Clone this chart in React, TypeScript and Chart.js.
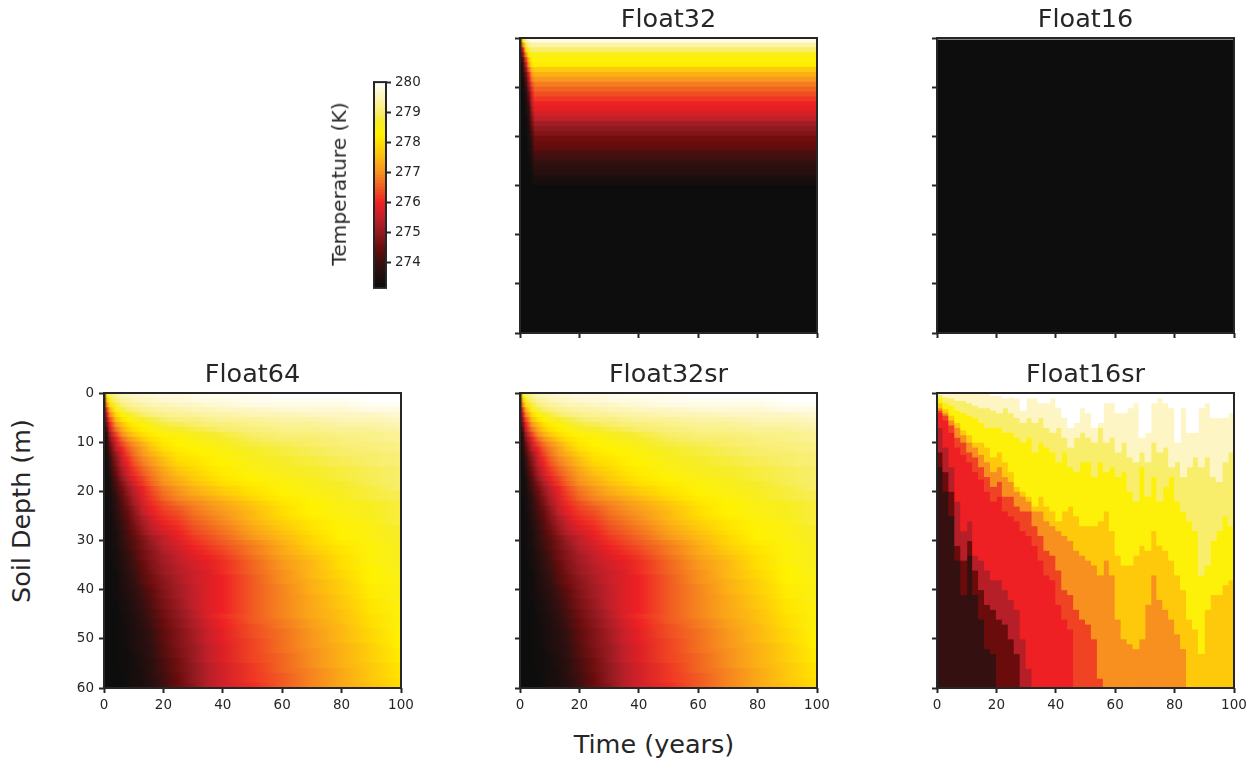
import React, { useEffect, useRef } from "react";
import { Chart, registerables } from "chart.js";

Chart.register(...registerables);

const FONT = "'DejaVu Sans'";
const INK = "#262626";

// Temperature fields are stored as tenths of a kelvin above 273 K.
const fieldTimes = [0, 1, 2, 4, 6, 8, 10, 13, 16, 20, 25, 30, 35, 40, 50, 60, 70, 80, 90, 100];
const fieldDepths = [0.5,1.5,2.5,3.5,4.5,5.5,6.5,7.5,8.5,9.5,10.5,11.5,12.5,13.5,14.5,15.5,16.5,17.5,18.5,19.5,20.5,21.5,22.5,23.5,24.5,25.5,26.5,27.5,28.5,29.5,30.5,31.5,32.5,33.5,34.5,35.5,36.5,37.5,38.5,39.5,40.5,41.5,42.5,43.5,44.5,45.5,46.5,47.5,48.5,49.5,50.5,51.5,52.5,53.5,54.5,55.5,56.5,57.5,58.5,59.5];

const float64Field = [
  [2,55,60,63,65,66,66,67,67,68,68,68,69,69,69,70,70,70,70,70],
  [2,47,56,61,63,64,65,66,66,67,67,68,68,68,69,69,69,69,70,70],
  [2,40,50,58,61,62,63,64,65,65,66,66,67,67,68,68,68,68,69,69],
  [2,33,44,54,58,60,61,62,63,64,64,65,65,66,66,67,67,67,68,68],
  [2,28,39,49,53,56,58,60,61,62,63,63,64,64,65,65,66,66,66,67],
  [2,22,34,45,50,53,55,57,58,60,61,61,62,63,63,64,64,65,65,66],
  [2,18,30,41,46,50,52,54,56,58,59,60,61,61,62,63,63,64,64,65],
  [2,14,26,37,43,47,50,52,54,56,57,58,59,60,61,62,62,63,63,64],
  [2,11,22,33,40,44,47,50,52,54,55,56,57,58,60,61,61,62,62,63],
  [2,8,19,29,36,40,43,47,50,52,53,55,56,57,59,60,60,61,62,63],
  [2,7,16,26,33,37,40,44,48,51,53,54,55,56,58,59,60,61,61,62],
  [2,6,14,24,30,35,38,42,46,50,52,53,54,55,57,58,59,60,61,62],
  [2,5,12,21,28,33,37,41,44,48,51,52,53,54,56,58,59,60,60,61],
  [2,5,10,19,26,31,35,39,42,46,50,51,52,54,56,57,58,59,60,61],
  [2,4,9,18,25,30,34,38,41,45,49,50,52,53,55,57,58,59,60,61],
  [2,4,8,16,23,28,32,36,39,43,47,49,51,52,55,56,57,58,59,60],
  [2,3,7,15,22,27,31,35,38,42,46,48,50,52,54,56,57,58,59,60],
  [2,3,6,13,20,25,29,33,37,41,44,47,49,51,53,55,56,58,59,60],
  [2,3,5,12,18,23,27,32,36,40,43,46,48,50,52,54,56,57,59,60],
  [2,3,5,11,16,21,25,30,34,38,41,44,46,48,51,54,55,57,58,60],
  [2,3,4,10,15,20,24,29,33,37,40,43,45,47,50,53,55,56,58,59],
  [2,3,4,9,14,18,23,28,32,36,39,41,43,45,49,52,54,56,58,59],
  [2,2,4,8,13,17,22,27,31,34,37,39,41,43,47,51,53,55,56,58],
  [2,2,4,8,12,16,20,26,30,33,35,38,40,42,46,50,53,55,56,58],
  [2,2,3,7,12,15,19,25,29,32,34,37,39,41,45,50,53,55,56,58],
  [2,2,3,7,11,14,18,23,27,31,33,36,38,40,45,49,52,54,56,58],
  [2,2,3,6,10,13,17,22,26,30,32,35,37,39,44,48,51,54,55,58],
  [2,2,3,6,10,13,16,21,25,28,31,34,36,38,43,47,51,53,55,57],
  [2,2,3,5,9,12,15,20,24,27,30,33,35,37,42,46,50,53,55,57],
  [2,2,3,5,9,12,14,18,22,25,29,32,34,36,41,45,49,53,55,57],
  [2,2,3,5,8,11,13,17,21,25,28,31,33,35,39,44,49,52,54,57],
  [2,2,3,5,8,11,13,17,20,24,27,30,32,34,38,43,48,51,54,56],
  [2,2,3,4,7,10,12,16,19,23,26,29,31,33,38,43,47,51,54,56],
  [2,2,3,4,7,9,12,16,19,22,25,28,30,32,37,42,46,50,54,56],
  [2,2,2,4,6,9,11,15,18,22,25,27,29,31,36,41,45,50,54,56],
  [2,2,2,4,6,9,11,14,18,21,24,27,29,31,36,41,45,50,53,56],
  [2,2,2,3,6,8,10,14,17,21,24,26,28,31,36,40,45,49,53,56],
  [2,2,2,3,5,8,10,13,16,20,23,26,28,30,35,40,45,49,53,55],
  [2,2,2,3,5,7,9,13,16,19,23,26,28,30,35,40,44,48,53,55],
  [2,2,2,3,5,7,9,12,15,19,22,25,28,30,35,39,44,48,52,55],
  [2,2,2,3,5,6,8,11,14,18,22,25,28,30,35,39,44,48,52,55],
  [2,2,2,3,4,6,8,11,14,18,22,25,28,30,35,39,43,47,52,55],
  [2,2,2,2,4,6,7,10,13,17,21,25,28,30,35,39,43,47,51,55],
  [2,2,2,2,4,5,7,10,13,17,21,25,28,30,35,39,43,47,51,54],
  [2,2,2,2,4,5,7,9,12,16,20,24,28,30,35,39,43,46,51,54],
  [2,2,2,2,3,5,6,9,12,16,20,24,28,31,35,39,43,46,50,54],
  [2,2,2,2,3,5,6,8,11,15,19,23,27,30,35,38,42,46,50,54],
  [2,2,2,2,3,4,6,8,11,15,19,23,27,30,34,38,42,45,50,54],
  [2,2,2,2,3,4,5,7,10,14,18,22,26,29,34,37,41,45,49,54],
  [2,2,2,2,3,4,5,7,10,14,18,22,26,29,34,37,41,45,49,53],
  [2,2,2,2,3,4,5,7,10,14,18,22,26,29,33,37,41,45,49,53],
  [2,2,2,2,3,4,5,7,9,13,18,21,25,28,33,37,41,44,48,53],
  [2,2,2,2,3,3,5,7,9,13,17,21,25,28,33,37,40,44,48,52],
  [2,2,2,2,3,3,4,6,9,13,17,21,25,28,33,36,40,44,48,52],
  [2,2,2,2,3,3,4,6,8,12,16,21,25,28,33,36,40,44,48,52],
  [2,2,2,2,3,3,4,6,8,12,16,20,24,27,32,36,40,44,47,51],
  [2,2,2,2,2,3,4,5,8,12,16,20,24,27,32,36,39,43,47,51],
  [2,2,2,2,2,3,4,5,8,11,15,20,24,27,32,35,39,43,47,51],
  [2,2,2,2,2,3,4,5,7,11,15,20,24,27,32,35,39,43,47,50],
  [2,2,2,2,2,3,4,5,7,11,15,19,24,27,31,35,39,43,46,50],
];
const float32srField = float64Field;

const float32Times = [0, 1, 2, 3, 4, 5, 100];
const float32Depths = [0.5,1.5,2.5,3.5,4.5,5.5,6.5,7.5,8.5,9.5,10.5,11.5,12.5,13.5,14.5,15.5,16.5,17.5,18.5,19.5,20.5,21.5,22.5,23.5,24.5,25.5,26.5,27.5,28.5,29.5,30.5,60];
const float32Field = [
  [2,55,64,67,68,68,68],[2,40,58,62,64,64,64],[2,28,50,58,60,60,60],[2,20,40,52,55,55,55],
  [2,14,32,46,53,54,54],[2,10,26,42,51,52,52],[2,8,20,36,45,47,47],[2,6,16,30,41,44,44],
  [2,4,13,26,38,41,41],[2,3,11,22,34,38,38],[2,3,9,19,31,36,36],[2,2,7,16,28,34,34],
  [2,2,6,14,26,32,32],[2,2,5,12,24,30,30],[2,2,4,10,22,29,29],[2,2,4,9,20,27,27],
  [2,2,3,8,18,25,25],[2,2,3,7,16,22,22],[2,2,3,6,14,20,20],[2,2,3,5,12,18,18],
  [2,2,2,5,10,16,16],[2,2,2,4,9,15,15],[2,2,2,4,8,14,14],[2,2,2,3,7,12,12],
  [2,2,2,3,6,11,11],[2,2,2,3,5,9,9],[2,2,2,2,4,8,8],[2,2,2,2,4,7,7],
  [2,2,2,2,3,5,5],[2,2,2,2,3,4,4],[2,2,2,2,2,2,2],[2,2,2,2,2,2,2],
];

const float16Times = [0, 100];
const float16Depths = [0.3, 0.5, 30, 60];
const float16Field = [[70, 70], [2, 2], [2, 2], [2, 2]];

// Float16sr: for each 2-year column, the depth (m) at which each temperature band ends.
const srTimes = [1,3,5,7,9,11,13,15,17,19,21,23,25,27,29,31,33,35,37,39,41,43,45,47,49,51,53,55,57,59,61,63,65,67,69,71,73,75,77,79,81,83,85,87,89,91,93,95,97,99];
const srWhiteBottom = [0,0,0,0,0,0,0,0,0,.5,.5,1,.8,1,3.5,1,1,2,2,1,3,5,7,6,3,4,7,6,2,2,4,4,3,2,9,8,2,1,2,3,10,3,8,8,3,2,5,5,5,4];
const srPaleBottom = [.3,.8,1,1.5,1.5,2,2.5,3,3,3.5,4,3,4,5,6,5,6,5,7,8,7,9,11,9,8,9,10,7,10,9,12,10,13,14,12,14,10,12,11,15,14,17,15,13,15,13,17,18,14,12];
const srLightBottom = [1,2,2.5,3.5,4,4.5,5,6,7,7,7,8,8,9,10,9,12,10,11,12,14,12,15,16,14,14,17,14,16,15,17,16,20,22,15,21,17,22,19,17,22,24,26,28,37,35,30,28,25,27];
const srYellowBottom = [2,3.2,4.5,6,7.5,8.5,10,10,11,13,12,14,16,19,20,21,23,21,23,24,26,24,23,25,27,27,27,26,24,28,33,35,35,33,31,32,28,31,32,34,37,40,46,48,53,44,41,41,39,38];
const srAmberBottom = [3,4,5.5,7,8.5,10,11,12.5,14,16,15,17,18,20,21,22,24,24,26,27,28,29,30,32,33,34,35,37,34,37,46,50,51,52,50,43,37,42,44,46,49,52,60,60,60,60,60,60,60,60];
const srOrangeBottom = [3.5,4.5,6.5,9,10,12,13,15,17,19,18,21,21,23,24,24,27,29,32,33,36,40,41,44,46,47,50,58,60,60,60,60,60,60,60,60,60,60,60,60,60,60,60,60,60,60,60,60,60,60];
const srOrRedBottom = [4,5.5,8,11,12.5,14,16,17.5,20,22,21,24,25,26,28,29,31,34,37,38,43,46,48,60,60,60,60,60,60,60,60,60,60,60,60,60,60,60,60,60,60,60,60,60,60,60,60,60,60,60];
const srRedBottom = [7,11,15,22,28,26,33,34,36,38,38,40,42,44,50,56,60,60,60,60,60,60,60,60,60,60,60,60,60,60,60,60,60,60,60,60,60,60,60,60,60,60,60,60,60,60,60,60,60,60];
const srCrimsonBottom = [12,16,20,31,34,30,36,40,43,44,46,47,50,53,60,60,60,60,60,60,60,60,60,60,60,60,60,60,60,60,60,60,60,60,60,60,60,60,60,60,60,60,60,60,60,60,60,60,60,60];
const srMaroonBottom = [15,20,25,34,41,33,41,46,52,53,60,60,60,60,60,60,60,60,60,60,60,60,60,60,60,60,60,60,60,60,60,60,60,60,60,60,60,60,60,60,60,60,60,60,60,60,60,60,60,60];
const srDarkBottom = [60,60,60,60,60,60,60,60,60,60,60,60,60,60,60,60,60,60,60,60,60,60,60,60,60,60,60,60,60,60,60,60,60,60,60,60,60,60,60,60,60,60,60,60,60,60,60,60,60,60];
const srBands = [
  { level: 70, bottom: srWhiteBottom },
  { level: 66, bottom: srPaleBottom },
  { level: 60, bottom: srLightBottom },
  { level: 54, bottom: srYellowBottom },
  { level: 47, bottom: srAmberBottom },
  { level: 40, bottom: srOrangeBottom },
  { level: 33, bottom: srOrRedBottom },
  { level: 30, bottom: srRedBottom },
  { level: 24, bottom: srCrimsonBottom },
  { level: 15, bottom: srMaroonBottom },
  { level: 10, bottom: srDarkBottom },
];

const colorbarLevels = [273.2,273.3,273.4,273.5,273.6,273.7,273.8,273.9,274,274.1,274.2,274.3,274.4,274.5,274.6,274.7,274.8,274.9,275,275.1,275.2,275.3,275.4,275.5,275.6,275.7,275.8,275.9,276,276.1,276.2,276.3,276.4,276.5,276.6,276.7,276.8,276.9,277,277.1,277.2,277.3,277.4,277.5,277.6,277.7,277.8,277.9,278,278.1,278.2,278.3,278.4,278.5,278.6,278.7,278.8,278.9,279,279.1,279.2,279.3,279.4,279.5,279.6,279.7,279.8,279.9,280];
const colorbarTicks = [274, 275, 276, 277, 278, 279, 280];
const depthTicks = [0, 10, 20, 30, 40, 50, 60];
const timeTicks = [0, 20, 40, 60, 80, 100];

// Colour ramp, keyed on tenths of a kelvin above 273 K.
const rampStops: [number, number, number, number][] = [
  [2, 13, 13, 13], [5, 28, 14, 14], [10, 53, 16, 16], [15, 106, 12, 12], [20, 143, 26, 31],
  [25, 192, 32, 42], [30, 238, 32, 36], [35, 241, 90, 34], [40, 247, 144, 30], [45, 253, 184, 19],
  [50, 255, 223, 0], [53, 255, 242, 0], [57, 246, 236, 40], [60, 248, 238, 107], [66, 253, 246, 196], [70, 255, 255, 255],
];
function ramp(d: number): string {
  if (d <= rampStops[0][0]) return "rgb(13,13,13)";
  for (let i = 1; i < rampStops.length; i++) {
    const a = rampStops[i - 1], b = rampStops[i];
    if (d <= b[0]) {
      const f = (d - a[0]) / (b[0] - a[0]);
      return `rgb(${Math.round(a[1] + (b[1] - a[1]) * f)},${Math.round(a[2] + (b[2] - a[2]) * f)},${Math.round(a[3] + (b[3] - a[3]) * f)})`;
    }
  }
  return "rgb(255,255,255)";
}

const frame = {
  id: "frame",
  afterDraw(chart: any) {
    const { ctx, chartArea: a } = chart;
    ctx.save();
    ctx.strokeStyle = INK;
    ctx.lineWidth = 2;
    ctx.strokeRect(a.left, a.top, a.right - a.left, a.bottom - a.top);
    ctx.restore();
  },
};

const barBase = {
  type: "bar",
  barPercentage: 1,
  categoryPercentage: 1,
  barThickness: "flex",
  stack: "cells",
  borderWidth: 0,
  inflateAmount: 0.5,
};

function fieldDatasets(times: number[], depths: number[], field: number[][]) {
  const sets: any[] = [];
  for (let i = 0; i < times.length - 1; i++) {
    sets.push({
      ...barBase,
      data: depths.map((z) => ({ x: [times[i], times[i + 1]], y: z })),
      backgroundColor: (c: any) => {
        const xs = c.chart.scales.x;
        if (c.dataIndex === undefined || !xs) return "#0d0d0d";
        const x0 = xs.getPixelForValue(times[i]);
        const x1 = xs.getPixelForValue(times[i + 1]);
        if (!Number.isFinite(x0) || !Number.isFinite(x1)) return "#0d0d0d";
        const row = field[c.dataIndex];
        const g = c.chart.ctx.createLinearGradient(x0, 0, x1, 0);
        g.addColorStop(0, ramp(row[i]));
        g.addColorStop(1, ramp(row[i + 1]));
        return g;
      },
    });
  }
  return sets;
}

function bandDatasets() {
  return srBands.map((band, k) => ({
    ...barBase,
    backgroundColor: ramp(band.level),
    data: srTimes.map((t, i) => {
      let top = 0;
      for (let j = 0; j < k; j++) top = Math.max(top, srBands[j].bottom[i]);
      return { x: t, y: [top, Math.max(top, band.bottom[i])] };
    }),
  }));
}

const PLOT_W = 297, PLOT_H = 295, MARGIN_X = 45, MARGIN_TOP = 38, MARGIN_BOTTOM = 30;

function Panel(props: { title: string; left: number; top: number; labelsX: boolean; labelsY: boolean; horizontal: boolean; datasets: () => any[] }) {
  const ref = useRef<HTMLCanvasElement>(null);
  useEffect(() => {
    const tickFont = { family: FONT, size: 13.5 };
    const grid = { drawOnChartArea: false, drawTicks: true, tickLength: 5, tickWidth: 2, tickColor: INK, offset: false };
    const valueStack = { stacked: false };
    const chart = new Chart(ref.current as any, {
      type: "bar",
      data: { datasets: props.datasets() },
      plugins: [frame],
      options: {
        animation: false,
        responsive: false,
        events: [],
        indexAxis: props.horizontal ? "y" : "x",
        layout: { padding: { right: MARGIN_X } },
        plugins: {
          legend: { display: false },
          tooltip: { enabled: false },
          title: {
            display: true,
            fullSize: false,
            text: props.title,
            color: INK,
            font: { family: FONT, size: 25.5, weight: "normal", lineHeight: 1.2 },
            padding: { top: 5.4, bottom: 2 },
          },
        },
        scales: {
          x: {
            type: "linear", min: 0, max: 100, offset: false, grid, border: { display: false },
            ...(props.horizontal ? valueStack : {}),
            afterFit: (s: any) => { s.height = MARGIN_BOTTOM; },
            afterBuildTicks: (s: any) => { s.ticks = timeTicks.map((value) => ({ value })); },
            ticks: {
              autoSkip: false, maxRotation: 0, padding: 4, color: INK, font: tickFont,
              callback: (v: any) => (props.labelsX ? String(v) : ""),
            },
          },
          y: {
            type: "linear", min: 0, max: 60, reverse: true, offset: false, grid, border: { display: false },
            ...(props.horizontal ? {} : valueStack),
            afterFit: (s: any) => { s.width = MARGIN_X; },
            afterBuildTicks: (s: any) => { s.ticks = depthTicks.map((value) => ({ value })); },
            ticks: {
              autoSkip: false, padding: 5, color: INK, font: tickFont,
              callback: (v: any) => (props.labelsY ? String(v) : ""),
            },
          },
        },
      } as any,
    } as any);
    return () => chart.destroy();
  }, []);
  return (
    <canvas
      ref={ref}
      width={PLOT_W + 2 * MARGIN_X}
      height={PLOT_H + MARGIN_TOP + MARGIN_BOTTOM}
      style={{ position: "absolute", left: props.left - MARGIN_X, top: props.top - MARGIN_TOP }}
    />
  );
}

function Colorbar() {
  const ref = useRef<HTMLCanvasElement>(null);
  useEffect(() => {
    const chart = new Chart(ref.current as any, {
      type: "bar",
      data: {
        datasets: [{
          ...barBase,
          data: colorbarLevels.map((k) => ({ x: [0, 1], y: k })),
          backgroundColor: colorbarLevels.map((k) => ramp((k - 273) * 10)),
        }],
      } as any,
      plugins: [frame],
      options: {
        animation: false,
        responsive: false,
        events: [],
        indexAxis: "y",
        layout: { padding: { left: 34, top: 12, bottom: 11 } },
        plugins: { legend: { display: false }, tooltip: { enabled: false } },
        scales: {
          x: { type: "linear", min: 0, max: 1, display: false, offset: false, stacked: false },
          y: {
            type: "linear", min: 273.17, max: 280, position: "right", offset: false,
            border: { display: false },
            grid: { drawOnChartArea: false, tickLength: 5, tickWidth: 2, tickColor: INK, offset: false },
            afterFit: (s: any) => { s.width = 40; },
            afterBuildTicks: (s: any) => { s.ticks = colorbarTicks.map((value) => ({ value })); },
            ticks: { autoSkip: false, padding: 4, color: INK, font: { family: FONT, size: 13.5 }, callback: (v: any) => String(v) },
          },
        },
      } as any,
    } as any);
    return () => chart.destroy();
  }, []);
  return <canvas ref={ref} width={86} height={230} style={{ position: "absolute", left: 340, top: 70 }} />;
}

function Label(props: { text: string; x: number; y: number; size: number; vertical?: boolean }) {
  return (
    <span
      style={{
        position: "absolute", left: props.x, top: props.y, whiteSpace: "nowrap", color: INK,
        fontFamily: FONT, fontSize: props.size, lineHeight: 1,
        transform: `translate(-50%,-50%)${props.vertical ? " rotate(-90deg)" : ""}`,
      }}
    >
      {props.text}
    </span>
  );
}

export default function App() {
  return (
    <div style={{ position: "absolute", left: 0, top: 0, width: 1255, height: 760, background: "#fff", overflow: "hidden" }}>
      <Panel title="Float32" left={520} top={38} labelsX={false} labelsY={false} horizontal datasets={() => fieldDatasets(float32Times, float32Depths, float32Field)} />
      <Panel title="Float16" left={937} top={38} labelsX={false} labelsY={false} horizontal datasets={() => fieldDatasets(float16Times, float16Depths, float16Field)} />
      <Panel title="Float64" left={104} top={393} labelsX labelsY horizontal datasets={() => fieldDatasets(fieldTimes, fieldDepths, float64Field)} />
      <Panel title="Float32sr" left={520} top={393} labelsX labelsY={false} horizontal datasets={() => fieldDatasets(fieldTimes, fieldDepths, float32srField)} />
      <Panel title="Float16sr" left={937} top={393} labelsX labelsY={false} horizontal={false} datasets={bandDatasets} />
      <Colorbar />
      <Label text="Temperature (K)" x={339} y={184} size={20.2} vertical />
      <Label text="Soil Depth (m)" x={22} y={511} size={25.4} vertical />
      <Label text="Time (years)" x={654} y={745} size={25.5} />
    </div>
  );
}
